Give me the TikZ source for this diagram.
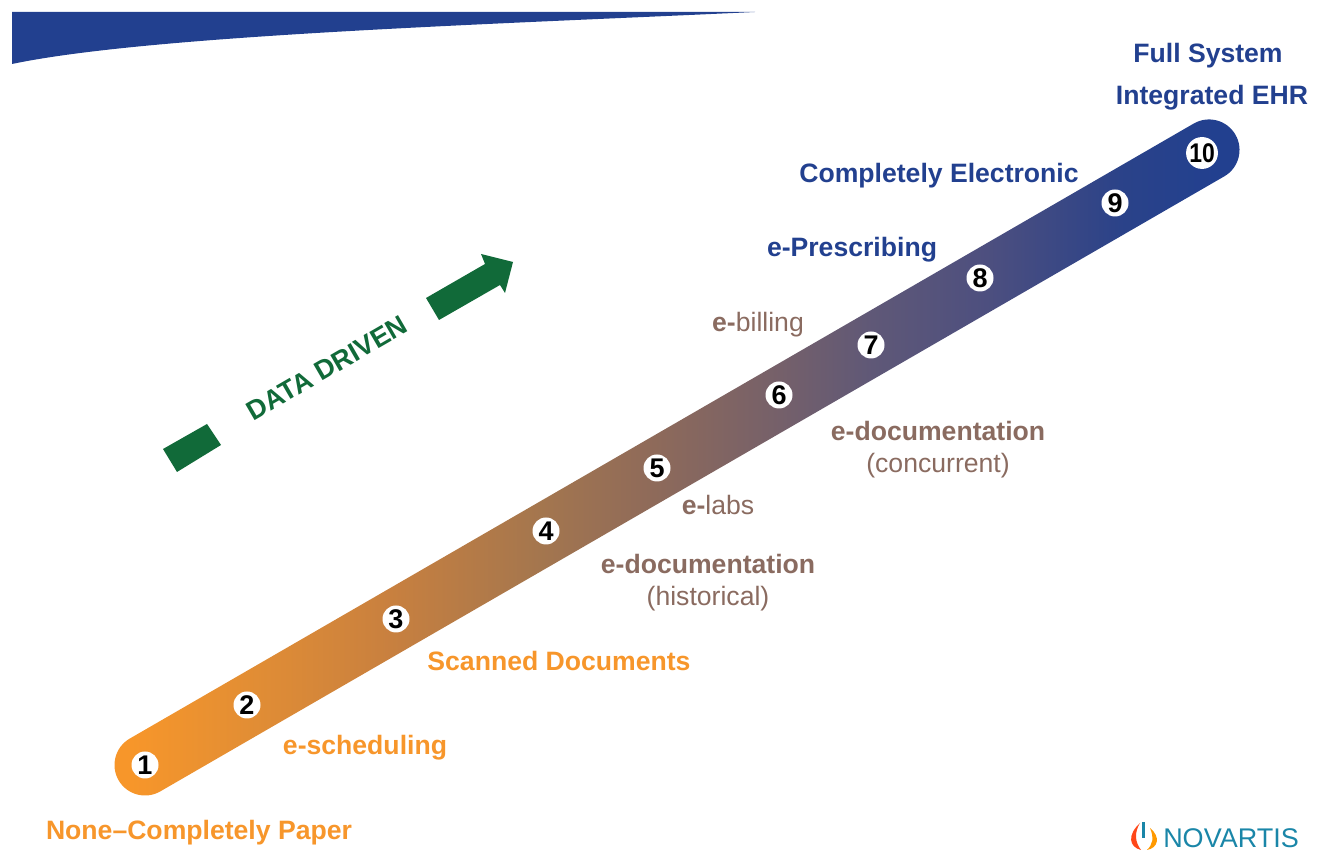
\documentclass[tikz,border=0pt]{standalone}
\usepackage{fontspec}
\setmainfont{Liberation Sans}
\definecolor{orangeT}{HTML}{F7962B}
\definecolor{brownT}{HTML}{8A6B60}
\definecolor{blueT}{HTML}{22408F}
\definecolor{greenT}{HTML}{116A39}
\definecolor{tealT}{HTML}{1A86A8}
\definecolor{cA}{HTML}{F7962A}
\definecolor{cB}{HTML}{E58F33}
\definecolor{cC}{HTML}{C8803F}
\definecolor{cD}{HTML}{A4764E}
\definecolor{cE}{HTML}{8E6A5A}
\definecolor{cF}{HTML}{75606A}
\definecolor{cG}{HTML}{5F5877}
\definecolor{cH}{HTML}{4D4F7F}
\definecolor{cI}{HTML}{2A4289}
\definecolor{cJ}{HTML}{22408F}
\pgfdeclarehorizontalshading{bandshade}{100bp}{
 color(0bp)=(cA); color(26.2bp)=(cA); color(30.7bp)=(cB); color(37.5bp)=(cC);
 color(44bp)=(cD); color(49bp)=(cE); color(54.5bp)=(cF); color(58.5bp)=(cG);
 color(63.5bp)=(cH); color(69.5bp)=(cI); color(73.5bp)=(cJ); color(100bp)=(cJ)}
\tikzset{
 num/.style={circle,fill=white,minimum size=27pt,inner sep=0pt,font=\fontsize{27}{27}\selectfont\bfseries,text=black},
 lab/.style={font=\fontsize{26.6}{30}\selectfont\bfseries,inner sep=0pt,align=center},
 labo/.style={lab,text=orangeT},
 labb/.style={lab,text=blueT},
 labm/.style={lab,text=brownT},
}
\begin{document}
\begin{tikzpicture}[x=1pt,y=1pt]
\useasboundingbox (0,0) rectangle (1324,850);
% top wedge
\fill[blueT] (12,838) -- (755,838) .. controls (500,826) and (150,815) .. (12,786) -- cycle;
% band
\begin{scope}[shift={(145,85)},rotate=30.03]
\shade[shading=bandshade,rounded corners=30.5pt] (-30.5,-30.5) rectangle (1259.5,30.5);
\end{scope}
% numbers
\node[num] (n1) at (145,85) {1};
\node[num] (n2) at (247,145) {2};
\node[num] (n3) at (396,231) {3};
\node[num] (n4) at (546,319) {4};
\node[num] (n5) at (657,382) {5};
\node[num] (n6) at (779,455) {6};
\node[num] (n7) at (871,505) {7};
\node[num] (n8) at (980,572) {8};
\node[num] (n9) at (1115,647) {9};
\node[num] (n10) at (1202,697) {\scalebox{.85}[1]{10}};
% labels
\node[labo] (l1) at (199,17) {None–Completely Paper};
\node[labo] (l2) at (365,102) {e-scheduling};
\node[labo] (l3) at (559,189) {Scanned Documents};
\node[labm] (l4) at (708,267) {e-documentation\\[2pt]{\mdseries (historical)}};
\node[labm] (l5) at (718,345) {e-{\mdseries labs}};
\node[labm] (l6) at (938,400) {e-documentation\\[2pt]{\mdseries (concurrent)}};
\node[labm] (l7) at (758,525) {e-{\mdseries billing}};
\node[labb] (l8) at (852,600) {e-Prescribing};
\node[labb] (l9) at (939,674) {Completely Electronic};
\node[labb] (l10) at (1212,773) {Full System\hspace*{8pt}\\[12pt]Integrated EHR};
% data driven
\fill[greenT] (163,401) -- (207,426) -- (221,405) -- (177,378) -- cycle;
\fill[greenT] (426,552) -- (485,586) -- (481,596) -- (513,588) -- (505,557) -- (500,565) -- (439,530) -- cycle;
\node[lab,font=\fontsize{27}{30}\selectfont\bfseries,text=greenT,rotate=30.07] (dd) at (327,482) {DATA DRIVEN};
% logo
\fill[red!60!orange!90!white] (1140,27) .. controls (1127,15) and (1129,3) .. (1141,0) .. controls (1135,8) and (1134,17) .. (1140,27) -- cycle;
\fill[orange!80!yellow] (1147,0) .. controls (1158,2) and (1161,13) .. (1150,22) .. controls (1154,12) and (1153,6) .. (1147,0) -- cycle;
\fill[tealT] (1142,28) rectangle (1145,12);
\node[font=\fontsize{27}{27}\selectfont,text=tealT,inner sep=0pt] (logo) at (1231,11.5) {NOVARTIS};
\end{tikzpicture}
\end{document}
